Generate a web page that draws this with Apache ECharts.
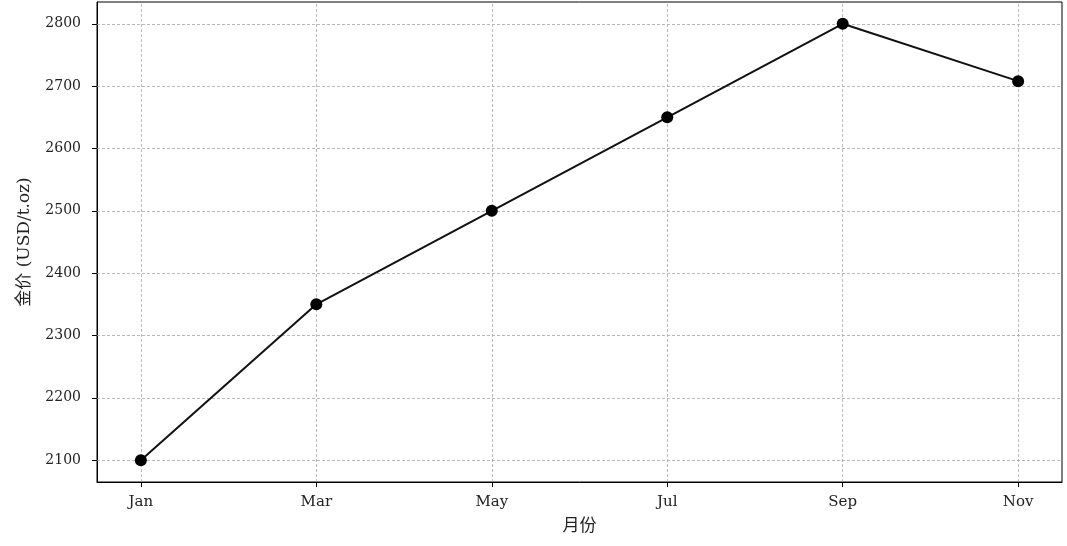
<!DOCTYPE html>
<html><head><meta charset="utf-8">
<script src="https://cdn.jsdelivr.net/npm/echarts@6/dist/echarts.min.js"></script>
<style>html,body{margin:0;padding:0;background:#fff}#c{width:1067px;height:546px}</style>
</head><body><div id="c"></div>
<script>
const months = ['Jan', 'Mar', 'May', 'Jul', 'Sep', 'Nov'];
const prices = [2100, 2350, 2500, 2650, 2800, 2708];
const yTicks = [2100, 2200, 2300, 2400, 2500, 2600, 2700, 2800];
const xIdx = months.map((m, i) => i);

const FONT = 'DejaVu Serif, Noto Sans CJK SC, serif';
const gridStyle = { color: '#aaaaaa', width: 0.8, type: [3, 2] };

const chart = echarts.init(document.getElementById('c'));
chart.setOption({
  animation: false,
  backgroundColor: '#fff',
  grid: { left: 97, right: 5, top: 2, bottom: 64, show: true, borderColor: '#000', borderWidth: 1, backgroundColor: 'transparent' },
  xAxis: {
    type: 'value', min: -0.25, max: 5.25,
    name: '月份', nameLocation: 'middle', nameGap: 36,
    nameTextStyle: { fontFamily: FONT, fontSize: 17, color: '#222' },
    axisLine: { show: true, onZero: false, lineStyle: { color: '#000', width: 1 } },
    axisTick: { show: true, inside: false, length: 5, lineStyle: { color: '#000', width: 1 }, customValues: xIdx },
    axisLabel: { customValues: xIdx, formatter: v => months[Math.round(v)], fontFamily: FONT, fontSize: 15, color: '#222', margin: 13 },
    splitLine: { show: false }
  },
  yAxis: {
    type: 'value', min: 2065, max: 2835,
    name: '金价 (USD/t.oz)', nameLocation: 'middle', nameGap: 64, nameRotate: 90,
    nameTextStyle: { fontFamily: FONT, fontSize: 17, color: '#222' },
    axisLine: { show: true, onZero: false, lineStyle: { color: '#000', width: 1 } },
    axisTick: { show: true, inside: false, length: 5, lineStyle: { color: '#000', width: 1 }, customValues: yTicks },
    axisLabel: { customValues: yTicks, formatter: v => String(v), fontFamily: FONT, fontSize: 14, color: '#222', margin: 16 },
    splitLine: { show: false }
  },
  series: [{
    type: 'line',
    data: xIdx.map(i => [i, prices[i]]),
    lineStyle: { color: '#111', width: 2 },
    itemStyle: { color: '#000' },
    symbol: 'circle', symbolSize: 12,
    z: 5,
    markLine: {
      silent: true, symbol: 'none', label: { show: false }, animation: false,
      lineStyle: gridStyle,
      data: xIdx.map(i => ({ xAxis: i })).concat(yTicks.map(v => ({ yAxis: v })))
    }
  }]
});
</script></body></html>
